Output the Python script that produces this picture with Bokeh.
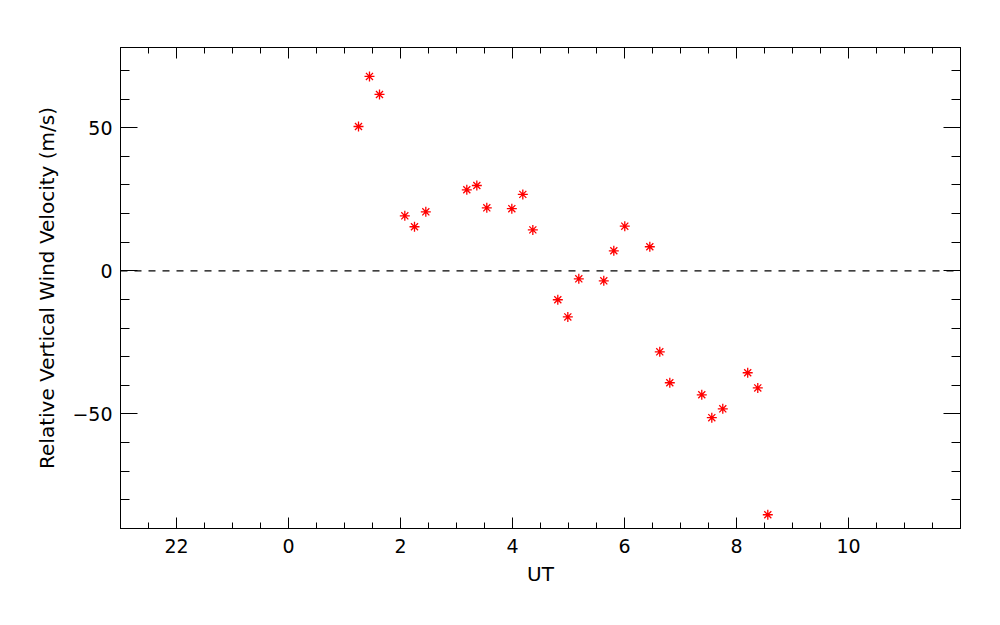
from bokeh.plotting import figure
from bokeh.models import Range1d, FixedTicker, LinearAxis, Span
from bokeh.embed import file_html
from bokeh.resources import INLINE

# UT hours (negative = previous day, -2 -> 22 UT)
ut_hours = [1.25, 1.446, 1.625, 2.077, 2.25, 2.452, 3.184, 3.363, 3.541,
            3.988, 4.184, 4.363, 4.809, 4.988, 5.184, 5.63, 5.809, 6.005,
            6.452, 6.63, 6.809, 7.38, 7.559, 7.755, 8.2, 8.38, 8.559]
# Relative vertical wind velocity (m/s)
velocity = [50.4, 67.9, 61.6, 19.2, 15.4, 20.6, 28.3, 29.8, 22.0,
            21.7, 26.7, 14.3, -10.1, -16.1, -2.8, -3.5, 7.0, 15.6,
            8.4, -28.3, -39.1, -43.3, -51.3, -48.2, -35.6, -40.9, -85.2]

x_major = [-2, 0, 2, 4, 6, 8, 10]
x_labels = {-2: "22", 0: "0", 2: "2", 4: "4", 6: "6", 8: "8", 10: "10"}
x_minor = [-3 + 0.5 * i for i in range(31)]
y_major = [-50, 0, 50]
y_minor = [-90 + 10 * i for i in range(17)]
zero_level = 0

FONT = "DejaVu Sans"

p = figure(width=988, height=608, frame_width=840, frame_height=481,
           output_backend="svg", toolbar_location=None,
           x_range=Range1d(-3, 12), y_range=Range1d(-90, 78),
           x_axis_location=None, y_axis_location=None,
           min_border_left=120, min_border_top=47, min_border_right=28,
           min_border_bottom=80)
p.grid.visible = False
p.outline_line_color = "black"
p.outline_line_width = 1
p.background_fill_color = "white"
p.border_fill_color = "white"

def style(ax, major_in, minor_in, labels=True):
    ax.major_tick_in = major_in
    ax.major_tick_out = 0
    ax.minor_tick_in = minor_in
    ax.minor_tick_out = 0
    ax.axis_line_color = "black"
    ax.major_tick_line_color = "black"
    ax.minor_tick_line_color = "black"
    ax.major_label_text_font = FONT
    ax.major_label_text_font_size = "19px"
    ax.major_label_text_color = "black"
    ax.axis_label_text_font = FONT
    ax.axis_label_text_font_size = "20px"
    ax.axis_label_text_font_style = "normal"
    ax.axis_label_text_color = "black"
    if not labels:
        ax.major_label_text_font_size = "0px"
        ax.major_label_text_alpha = 0

xt = FixedTicker(ticks=x_major, minor_ticks=x_minor)
yt = FixedTicker(ticks=y_major, minor_ticks=y_minor)

bottom = LinearAxis(ticker=xt, axis_label="UT", major_label_overrides=x_labels)
style(bottom, 11, 6)
bottom.major_label_standoff = 10
bottom.axis_label_standoff = 6
p.add_layout(bottom, "below")

top = LinearAxis(ticker=xt)
style(top, 11, 6, labels=False)
p.add_layout(top, "above")

left = LinearAxis(ticker=yt, axis_label="Relative Vertical Wind Velocity (m/s)")
style(left, 17, 9)
left.major_label_standoff = 8
left.axis_label_standoff = 10
p.add_layout(left, "left")

right = LinearAxis(ticker=yt)
style(right, 17, 9, labels=False)
p.add_layout(right, "right")

p.add_layout(Span(location=zero_level, dimension="width", line_color="black",
                  line_width=1.2, line_dash="7 7"))

p.scatter(ut_hours, velocity, marker="asterisk", size=10,
          line_color="red", line_width=1.3)

open("out.html", "w").write(file_html(p, INLINE))
